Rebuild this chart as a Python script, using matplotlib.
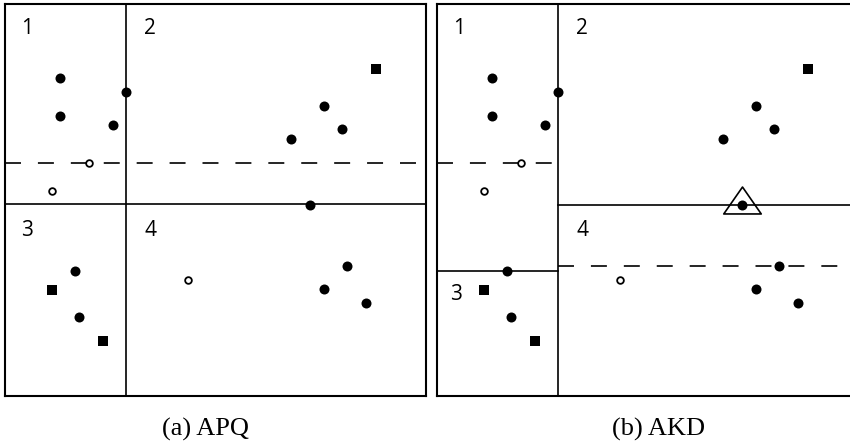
"""APQ vs AKD partition sketch: two panels with the same points, different splits."""
import matplotlib
matplotlib.use('Agg')
import matplotlib.pyplot as plt
from matplotlib.path import Path

plt.rcParams['lines.scale_dashes'] = False

# panel coordinates: x to the right, y downwards (0..421 x 0..392)
W, H = 421, 392

dot_x = [55, 55, 108, 121, 286, 319, 337, 305, 70, 74, 342, 319, 361]
dot_y = [74, 112, 121, 88, 135, 102, 125, 201, 267, 313, 262, 285, 299]
sq_x = [371, 47, 98]
sq_y = [65, 286, 337]
open_x = [84, 47, 183]
open_y = [159, 187, 276]

# (x0, x1, y) for horizontal splits, (x, y0, y1) for vertical ones
apq_solid_h = [(0, W, 200)]
apq_solid_v = [(121, 0, H)]
apq_dash_h = [(0, W, 159)]
akd_solid_h = [(121, W, 201), (0, 121, 267)]
akd_solid_v = [(121, 0, H)]
akd_dash_h = [(0, 115, 159), (121, 401, 262)]

apq_labels = [('1', 22, 24), ('2', 145, 24), ('3', 22, 226), ('4', 145, 226)]
akd_labels = [('1', 22, 24), ('2', 145, 24), ('3', 19, 291), ('4', 145, 226)]

triangle_xy = (305, 196)   # the highlighted point in AKD

DASH = (0, (11.5, 12.2))
TRI = Path([(0, 14), (-19.5, -14), (19.5, -14), (0, 14)], closed=True)


def draw_panel(ax, solid_h, solid_v, dash_h, labels):
    ax.set_xlim(0, W)
    ax.set_ylim(H, 0)
    ax.set_xticks([]); ax.set_yticks([])
    for s in ax.spines.values():
        s.set_linewidth(1.5)
    for x0, x1, y in solid_h:
        ax.plot([x0, x1], [y, y], color='black', lw=1.2)
    for x, y0, y1 in solid_v:
        ax.plot([x, x], [y0, y1], color='black', lw=1.2)
    for x0, x1, y in dash_h:
        ax.plot([x0, x1], [y, y], color='black', lw=1.2, linestyle=DASH)
    ax.plot(dot_x, dot_y, 'o', color='black', ms=7.2, mew=0, zorder=3)
    ax.plot(sq_x, sq_y, 's', color='black', ms=7, mew=0, zorder=3)
    ax.plot(open_x, open_y, 'o', mfc='white', mec='black', ms=4.8, mew=1.3, zorder=3)
    for t, x, y in labels:
        ax.text(x, y, t, ha='center', va='center', fontsize=15, family='Open Sans')


fig = plt.figure(figsize=(8.5, 4.41), dpi=100)
fw, fh = 850, 441
ax1 = fig.add_axes([5 / fw, (fh - 396) / fh, W / fw, H / fh])
ax2 = fig.add_axes([437 / fw, (fh - 396) / fh, W / fw, H / fh])

draw_panel(ax1, apq_solid_h, apq_solid_v, apq_dash_h, apq_labels)
draw_panel(ax2, akd_solid_h, akd_solid_v, akd_dash_h, akd_labels)
ax2.plot(*triangle_xy, marker=TRI, ms=27, mfc='none', mec='black', mew=1.2, zorder=4)

fig.text(206 / fw, 1 - 436 / fh, '(a) APQ', ha='center', va='baseline',
         fontsize=19, family='Liberation Serif')
fig.text(658 / fw, 1 - 436 / fh, '(b) AKD', ha='center', va='baseline',
         fontsize=19, family='Liberation Serif')

fig.savefig('out.png', dpi=100)
